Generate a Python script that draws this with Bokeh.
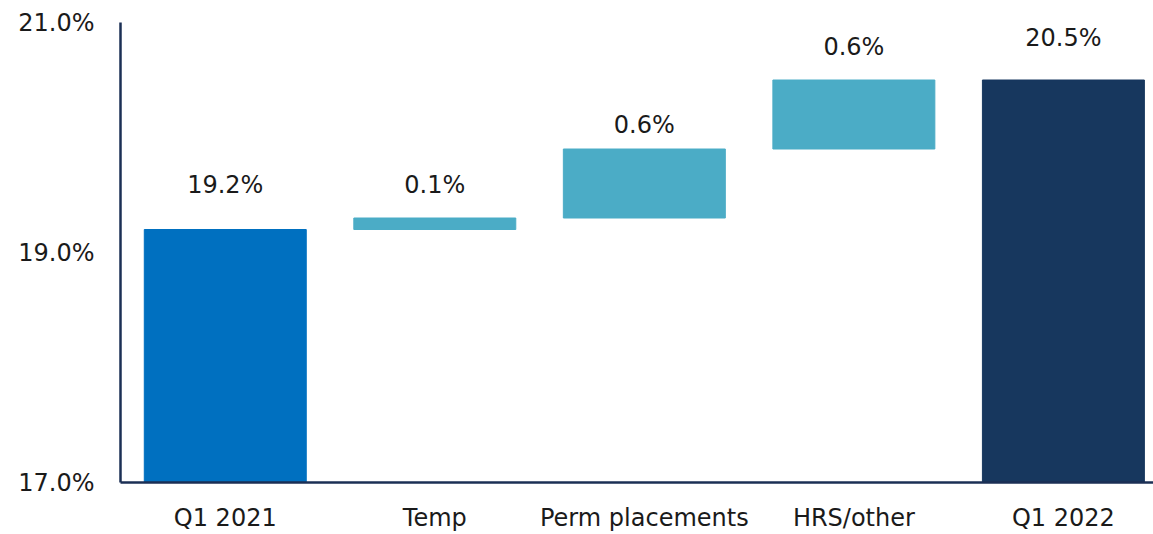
from bokeh.plotting import figure
from bokeh.models import Range1d, FixedTicker, ColumnDataSource
from bokeh.embed import file_html
from bokeh.resources import INLINE

categories = ["Q1 2021", "Temp", "Perm placements", "HRS/other", "Q1 2022"]
bottoms = [17.0, 19.2, 19.3, 19.9, 17.0]
tops = [19.2, 19.3, 19.9, 20.5, 20.5]
labels = ["19.2%", "0.1%", "0.6%", "0.6%", "20.5%"]
colors = ["#0070C0", "#4BACC6", "#4BACC6", "#4BACC6", "#17375E"]

# label pixel offsets above each bar top (styling)
label_offsets = [-45, -33, -24, -33, -42]

xs = list(range(len(categories)))
src = ColumnDataSource(dict(x=xs, bottom=bottoms, top=tops, label=labels,
                            color=colors, yoff=label_offsets))

FONT = "DejaVu Sans"
p = figure(width=1153, height=534, output_backend="svg", toolbar_location=None,
           x_range=Range1d(-0.5, 4.43), y_range=Range1d(17.0, 21.0),
           min_border_left=120, min_border_top=22, min_border_right=0, min_border_bottom=52)
p.vbar(x="x", bottom="bottom", top="top", width=0.773, color="color", source=src)
p.text(x="x", y="top", text="label", source=src, text_align="center", text_baseline="middle",
       y_offset="yoff", text_font_size="24px", text_color="#1a1a1a", text_font={"value": FONT})

p.xgrid.visible = False
p.ygrid.visible = False
p.outline_line_color = None

p.xaxis.ticker = FixedTicker(ticks=xs)
p.xaxis.major_label_overrides = {i: c for i, c in enumerate(categories)}
p.yaxis.ticker = FixedTicker(ticks=[17.0, 19.0, 21.0])
p.yaxis.major_label_overrides = {17.0: "17.0%", 19.0: "19.0%", 21.0: "21.0%", 17: "17.0%", 19: "19.0%", 21: "21.0%"}
for ax in (p.xaxis, p.yaxis):
    ax.axis_line_color = "#1B2F55"
    ax.axis_line_width = 2.5
    ax.major_tick_line_color = None
    ax.minor_tick_line_color = None
    ax.major_label_text_font = FONT
    ax.major_label_text_font_size = "24px"
    ax.major_label_text_color = "#1a1a1a"
p.yaxis.major_label_standoff = 20
p.xaxis.major_label_standoff = 15

open("out.html", "w").write(file_html(p, INLINE))
